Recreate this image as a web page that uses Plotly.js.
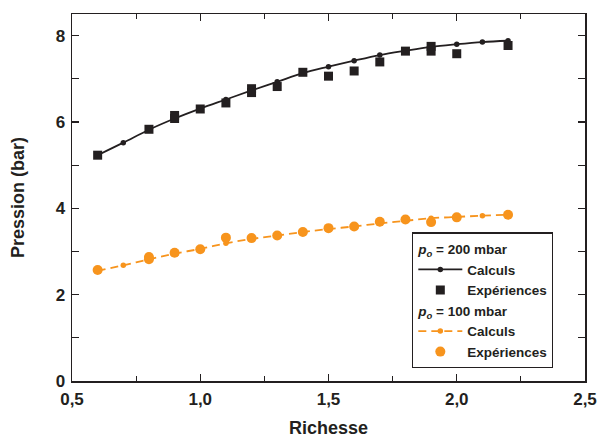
<!DOCTYPE html>
<html><head><meta charset="utf-8">
<script src="https://cdn.plot.ly/plotly-3.0.1.min.js"></script>
<style>html,body{margin:0;padding:0;background:#fff}#chart{width:599px;height:438px}</style>
</head><body><div id="chart"></div>
<script>
// Calculated curves (Richesse vs Pression)
const xCalc = [0.6,0.7,0.8,0.9,1.0,1.1,1.2,1.3,1.4,1.5,1.6,1.7,1.8,1.9,2.0,2.1,2.2];
const calc200 = [5.23,5.52,5.82,6.08,6.31,6.52,6.73,6.93,7.13,7.28,7.42,7.55,7.65,7.74,7.80,7.85,7.88];
const calc100 = [2.55,2.68,2.82,2.95,3.06,3.19,3.29,3.37,3.45,3.52,3.58,3.65,3.71,3.77,3.80,3.83,3.85];
// Experimental points
const xExp200 = [0.6,0.8,0.9,0.9,1.0,1.1,1.2,1.2,1.3,1.4,1.5,1.6,1.7,1.8,1.9,1.9,2.0,2.2];
const exp200 = [5.23,5.83,6.15,6.08,6.30,6.44,6.77,6.68,6.82,7.15,7.06,7.18,7.39,7.64,7.75,7.64,7.58,7.77];
const xExp100 = [0.6,0.8,0.8,0.9,1.0,1.1,1.2,1.3,1.4,1.5,1.6,1.7,1.8,1.9,2.0,2.2];
const exp100 = [2.57,2.87,2.82,2.97,3.05,3.32,3.31,3.37,3.45,3.54,3.58,3.69,3.74,3.68,3.79,3.85];
const legendNames = ['Calculs','Expériences'];
const groupTitles = ['<i>p<sub>o</sub></i> = 200 mbar','<i>p<sub>o</sub></i> = 100 mbar'];

const BLACK = '#231f20', ORANGE = '#f7941d';
const FONT = 'Arial, "Liberation Sans", sans-serif';

const traces = [
  {x: xCalc, y: calc200, mode: 'lines+markers', name: legendNames[0],
   line: {color: BLACK, width: 1.8, shape: 'spline'}, marker: {color: BLACK, size: 5.5},
   legendgroup: 'g200', legendgrouptitle: {text: groupTitles[0], font: {size: 13.5, weight: 'bold', color: BLACK}}},
  {x: xExp200, y: exp200, mode: 'markers', name: legendNames[1],
   marker: {color: BLACK, size: 9, symbol: 'square'}, legendgroup: 'g200'},
  {x: xCalc, y: calc100, mode: 'lines+markers', name: legendNames[0],
   line: {color: ORANGE, width: 1.8, shape: 'spline', dash: '8px,5px'}, marker: {color: ORANGE, size: 5.5},
   legendgroup: 'g100', legendgrouptitle: {text: groupTitles[1], font: {size: 13.5, weight: 'bold', color: BLACK}}},
  {x: xExp100, y: exp100, mode: 'markers', name: legendNames[1],
   marker: {color: ORANGE, size: 10, symbol: 'circle'}, legendgroup: 'g100'}
];

const axisCommon = {
  showgrid: false, zeroline: false, showline: true, linecolor: BLACK, linewidth: 1.5,
  mirror: 'allticks', ticks: 'inside', ticklen: 7, tickwidth: 1.2, tickcolor: BLACK,
  tickfont: {family: FONT, size: 17, weight: 'bold', color: BLACK}
};
const titleFont = {family: FONT, size: 18, weight: 'bold', color: BLACK};

const layout = {
  width: 599, height: 438,
  margin: {l: 72, r: 14, t: 14, b: 57},
  paper_bgcolor: '#fff', plot_bgcolor: '#fff',
  separators: ', ',
  font: {family: FONT, color: BLACK},
  xaxis: Object.assign({}, axisCommon, {
    range: [0.5, 2.5], tickvals: [0.5,1.0,1.5,2.0,2.5], tickformat: '.1f',
    ticklabelstandoff: 2,
    minor: {tickvals: [0.75,1.25,1.75,2.25], ticks: 'inside', ticklen: 5, tickcolor: BLACK, tickwidth: 1.2},
    title: {text: 'Richesse', standoff: 14, font: titleFont}
  }),
  yaxis: Object.assign({}, axisCommon, {
    range: [0, 8.5], tickvals: [0,2,4,6,8],
    ticklabelstandoff: 2,
    minor: {tickvals: [1,3,5,7], ticks: 'inside', ticklen: 7, tickcolor: BLACK, tickwidth: 1.2},
    title: {text: 'Pression (bar)', standoff: 26, font: titleFont}
  }),
  showlegend: true,
  legend: {
    x: 0.663, y: 0.405, xanchor: 'left', yanchor: 'top',
    bordercolor: BLACK, borderwidth: 1.2, bgcolor: '#fff',
    traceorder: 'grouped', tracegroupgap: 0, itemwidth: 44,
    font: {family: FONT, size: 13.5, weight: 'bold', color: BLACK}
  }
};

Plotly.newPlot('chart', traces, layout, {displayModeBar: false, staticPlot: true});
</script></body></html>
